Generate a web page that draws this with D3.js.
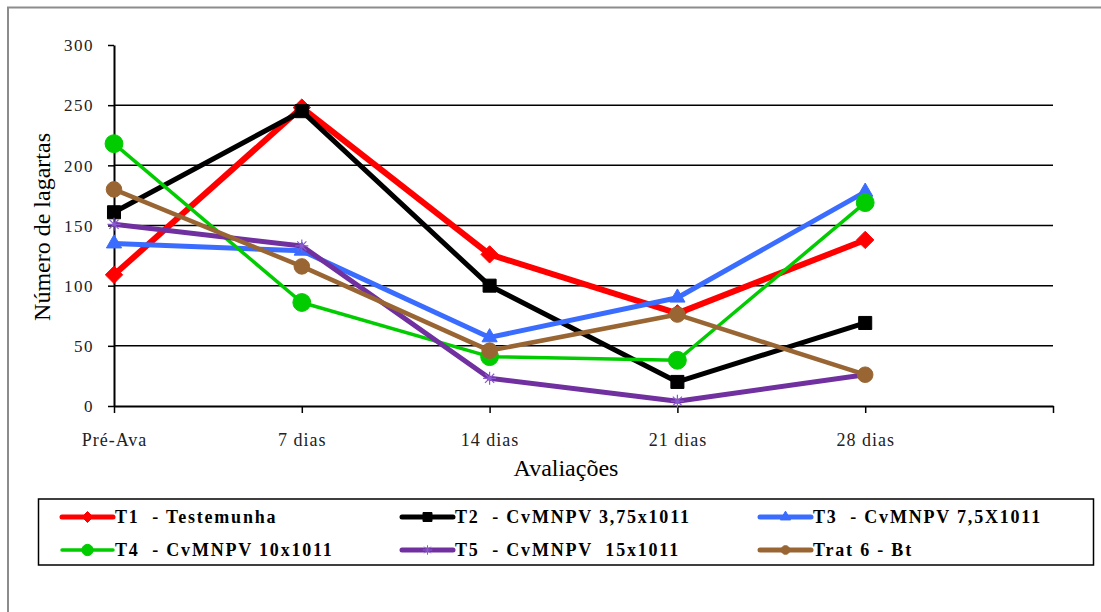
<!DOCTYPE html>
<html>
<head>
<meta charset="utf-8">
<script src="https://cdn.jsdelivr.net/npm/d3@7"></script>
<style>
  html, body { margin: 0; padding: 0; background: #fff; overflow: hidden; }
  svg { display: block; }
  text { font-family: "Liberation Serif", "Times New Roman", serif; }
</style>
</head>
<body>
<svg id="chart" width="1101" height="612"></svg>
<script>
// Avaliações (x categories); the axis keeps one empty slot after the last one
const categories = ["Pré-Ava", "7 dias", "14 dias", "21 dias", "28 dias"];
const yTicks = [0, 50, 100, 150, 200, 250, 300];

// Número de lagartas per treatment
const t1Testemunha = [109, 248, 126, 77, 138];
const t2Cv375 = [161, 245, 100, 20, 69];
const t3Cv75 = [135, 129, 57, 90, 178];
const t4Cv10 = [218, 86, 41, 38, 169];
const t5Cv15 = [151, 133, 23, 4, 26];
const trat6Bt = [180, 116, 46, 76, 26];

const seriesNames = [
  "T1  - Testemunha",
  "T2  - CvMNPV 3,75x1011",
  "T3  - CvMNPV 7,5X1011",
  "T4  - CvMNPV 10x1011",
  "T5  - CvMNPV  15x1011",
  "Trat 6 - Bt"
];
const seriesValues = [t1Testemunha, t2Cv375, t3Cv75, t4Cv10, t5Cv15, trat6Bt];

// custom marker shapes
const diamond = {
  draw(ctx, size) {
    const r = Math.sqrt(size / 2);
    ctx.moveTo(0, -r); ctx.lineTo(r, 0); ctx.lineTo(0, r); ctx.lineTo(-r, 0); ctx.closePath();
  }
};
const asterisk = {
  draw(ctx, size) {
    const r = Math.sqrt(size) / 2;
    const d = r * Math.SQRT1_2;
    ctx.moveTo(0, -r); ctx.lineTo(0, r);
    ctx.moveTo(-r, 0); ctx.lineTo(r, 0);
    ctx.moveTo(-d, -d); ctx.lineTo(d, d);
    ctx.moveTo(-d, d); ctx.lineTo(d, -d);
  }
};

const styles = [
  { color: "#ff0000", width: 6,   shape: diamond,           size: 150, legendSize: 60,  fill: true },
  { color: "#000000", width: 5,   shape: d3.symbolSquare,   size: 170, legendSize: 80,  fill: true },
  { color: "#3a6cff", width: 5,   shape: d3.symbolTriangle, size: 100, legendSize: 45,  fill: true },
  { color: "#00cc00", width: 3.5, shape: d3.symbolCircle,   size: 250, legendSize: 100, fill: true },
  { color: "#7030a0", width: 5,   shape: asterisk,          size: 170, legendSize: 90,  fill: false, markColor: "#8a5ad0" },
  { color: "#996633", width: 4.5, shape: d3.symbolCircle,   size: 190, legendSize: 60,  fill: true }
];

const svg = d3.select("#chart");

// outer chart frame
svg.append("rect")
  .attr("x", 8).attr("y", 7.5)
  .attr("width", 1300).attr("height", 800)
  .attr("fill", "none").attr("stroke", "#8c8c8c").attr("stroke-width", 2);

const plot = { left: 114, right: 1053, top: 45, bottom: 406 };

const x = d3.scaleLinear().domain([0, categories.length]).range([plot.left, plot.right]);
const y = d3.scaleLinear().domain([0, 300]).range([plot.bottom, plot.top]);

// horizontal gridlines
svg.append("g")
  .selectAll("line")
  .data(yTicks.filter(v => v > 0 && v < 300))
  .join("line")
  .attr("x1", plot.left).attr("x2", plot.right)
  .attr("y1", d => y(d)).attr("y2", d => y(d))
  .attr("stroke", "#000").attr("stroke-width", 1.5);

// y axis
const yAxis = svg.append("g")
  .attr("transform", `translate(${plot.left},0)`)
  .call(d3.axisLeft(y).tickValues(yTicks).tickSize(6).tickSizeOuter(0).tickPadding(14));
yAxis.select(".domain").attr("stroke", "#000").attr("stroke-width", 2);
yAxis.selectAll(".tick line").attr("stroke", "#000").attr("stroke-width", 1.5);
yAxis.selectAll(".tick text")
  .attr("font-size", 17).attr("fill", "#222").attr("letter-spacing", 1.5)
  .attr("font-family", "Liberation Serif, serif")
  .attr("dy", "0.34em");

// x axis
const xAxis = svg.append("g")
  .attr("transform", `translate(0,${plot.bottom})`)
  .call(d3.axisBottom(x)
    .tickValues(d3.range(categories.length + 1))
    .tickFormat(i => categories[i] || "")
    .tickSize(7).tickSizeOuter(0).tickPadding(20));
xAxis.select(".domain").attr("stroke", "#000").attr("stroke-width", 2);
xAxis.selectAll(".tick line").attr("stroke", "#000").attr("stroke-width", 1.5);
xAxis.selectAll(".tick text")
  .attr("font-size", 18).attr("fill", "#222").attr("letter-spacing", 1)
  .attr("font-family", "Liberation Serif, serif");

// axis titles
svg.append("text")
  .attr("transform", "translate(50,227) rotate(-90)")
  .attr("text-anchor", "middle")
  .attr("font-size", 24).attr("fill", "#000")
  .text("Número de lagartas");

svg.append("text")
  .attr("x", 566).attr("y", 476)
  .attr("text-anchor", "middle")
  .attr("font-size", 24).attr("fill", "#000")
  .text("Avaliações");

// series: line then markers, drawn in treatment order
const line = d3.line().x((d, i) => x(i)).y(d => y(d));
seriesValues.forEach((vals, s) => {
  const st = styles[s];
  const g = svg.append("g");
  g.append("path")
    .datum(vals)
    .attr("d", line)
    .attr("fill", "none")
    .attr("stroke", st.color)
    .attr("stroke-width", st.width)
    .attr("stroke-linejoin", "round");
  g.selectAll("path.mark")
    .data(vals)
    .join("path")
    .attr("class", "mark")
    .attr("transform", (d, i) => `translate(${x(i)},${y(d)})`)
    .attr("d", d3.symbol().type(st.shape).size(st.size))
    .attr("fill", st.fill ? st.color : "none")
    .attr("stroke", st.fill ? st.color : st.markColor)
    .attr("stroke-width", st.fill ? 1 : 1.2);
});

// legend
svg.append("rect")
  .attr("x", 38.5).attr("y", 499)
  .attr("width", 1055).attr("height", 66)
  .attr("fill", "#fff").attr("stroke", "#000").attr("stroke-width", 1.5);

const legendCols = [62, 402, 760];
const legendRows = [517, 550];
seriesNames.forEach((name, s) => {
  const st = styles[s];
  const lx = legendCols[s % 3];
  const ly = legendRows[Math.floor(s / 3)];
  const g = svg.append("g").attr("transform", `translate(${lx},${ly})`);
  g.append("line")
    .attr("x1", 0).attr("x2", 51).attr("y1", 0).attr("y2", 0)
    .attr("stroke", st.color)
    .attr("stroke-width", s === 3 ? 3.5 : 5)
    .attr("stroke-linecap", "round");
  g.append("path")
    .attr("transform", "translate(25.5,0)")
    .attr("d", d3.symbol().type(st.shape).size(st.legendSize))
    .attr("fill", st.fill ? st.color : "none")
    .attr("stroke", st.fill ? st.color : st.markColor)
    .attr("stroke-width", 1);
  g.append("text")
    .attr("x", 53).attr("y", 0).attr("dy", "0.35em")
    .attr("font-size", 18).attr("font-weight", "bold")
    .attr("letter-spacing", 1.8)
    .attr("fill", "#000")
    .style("white-space", "pre")
    .text(name);
});
</script>
</body>
</html>
